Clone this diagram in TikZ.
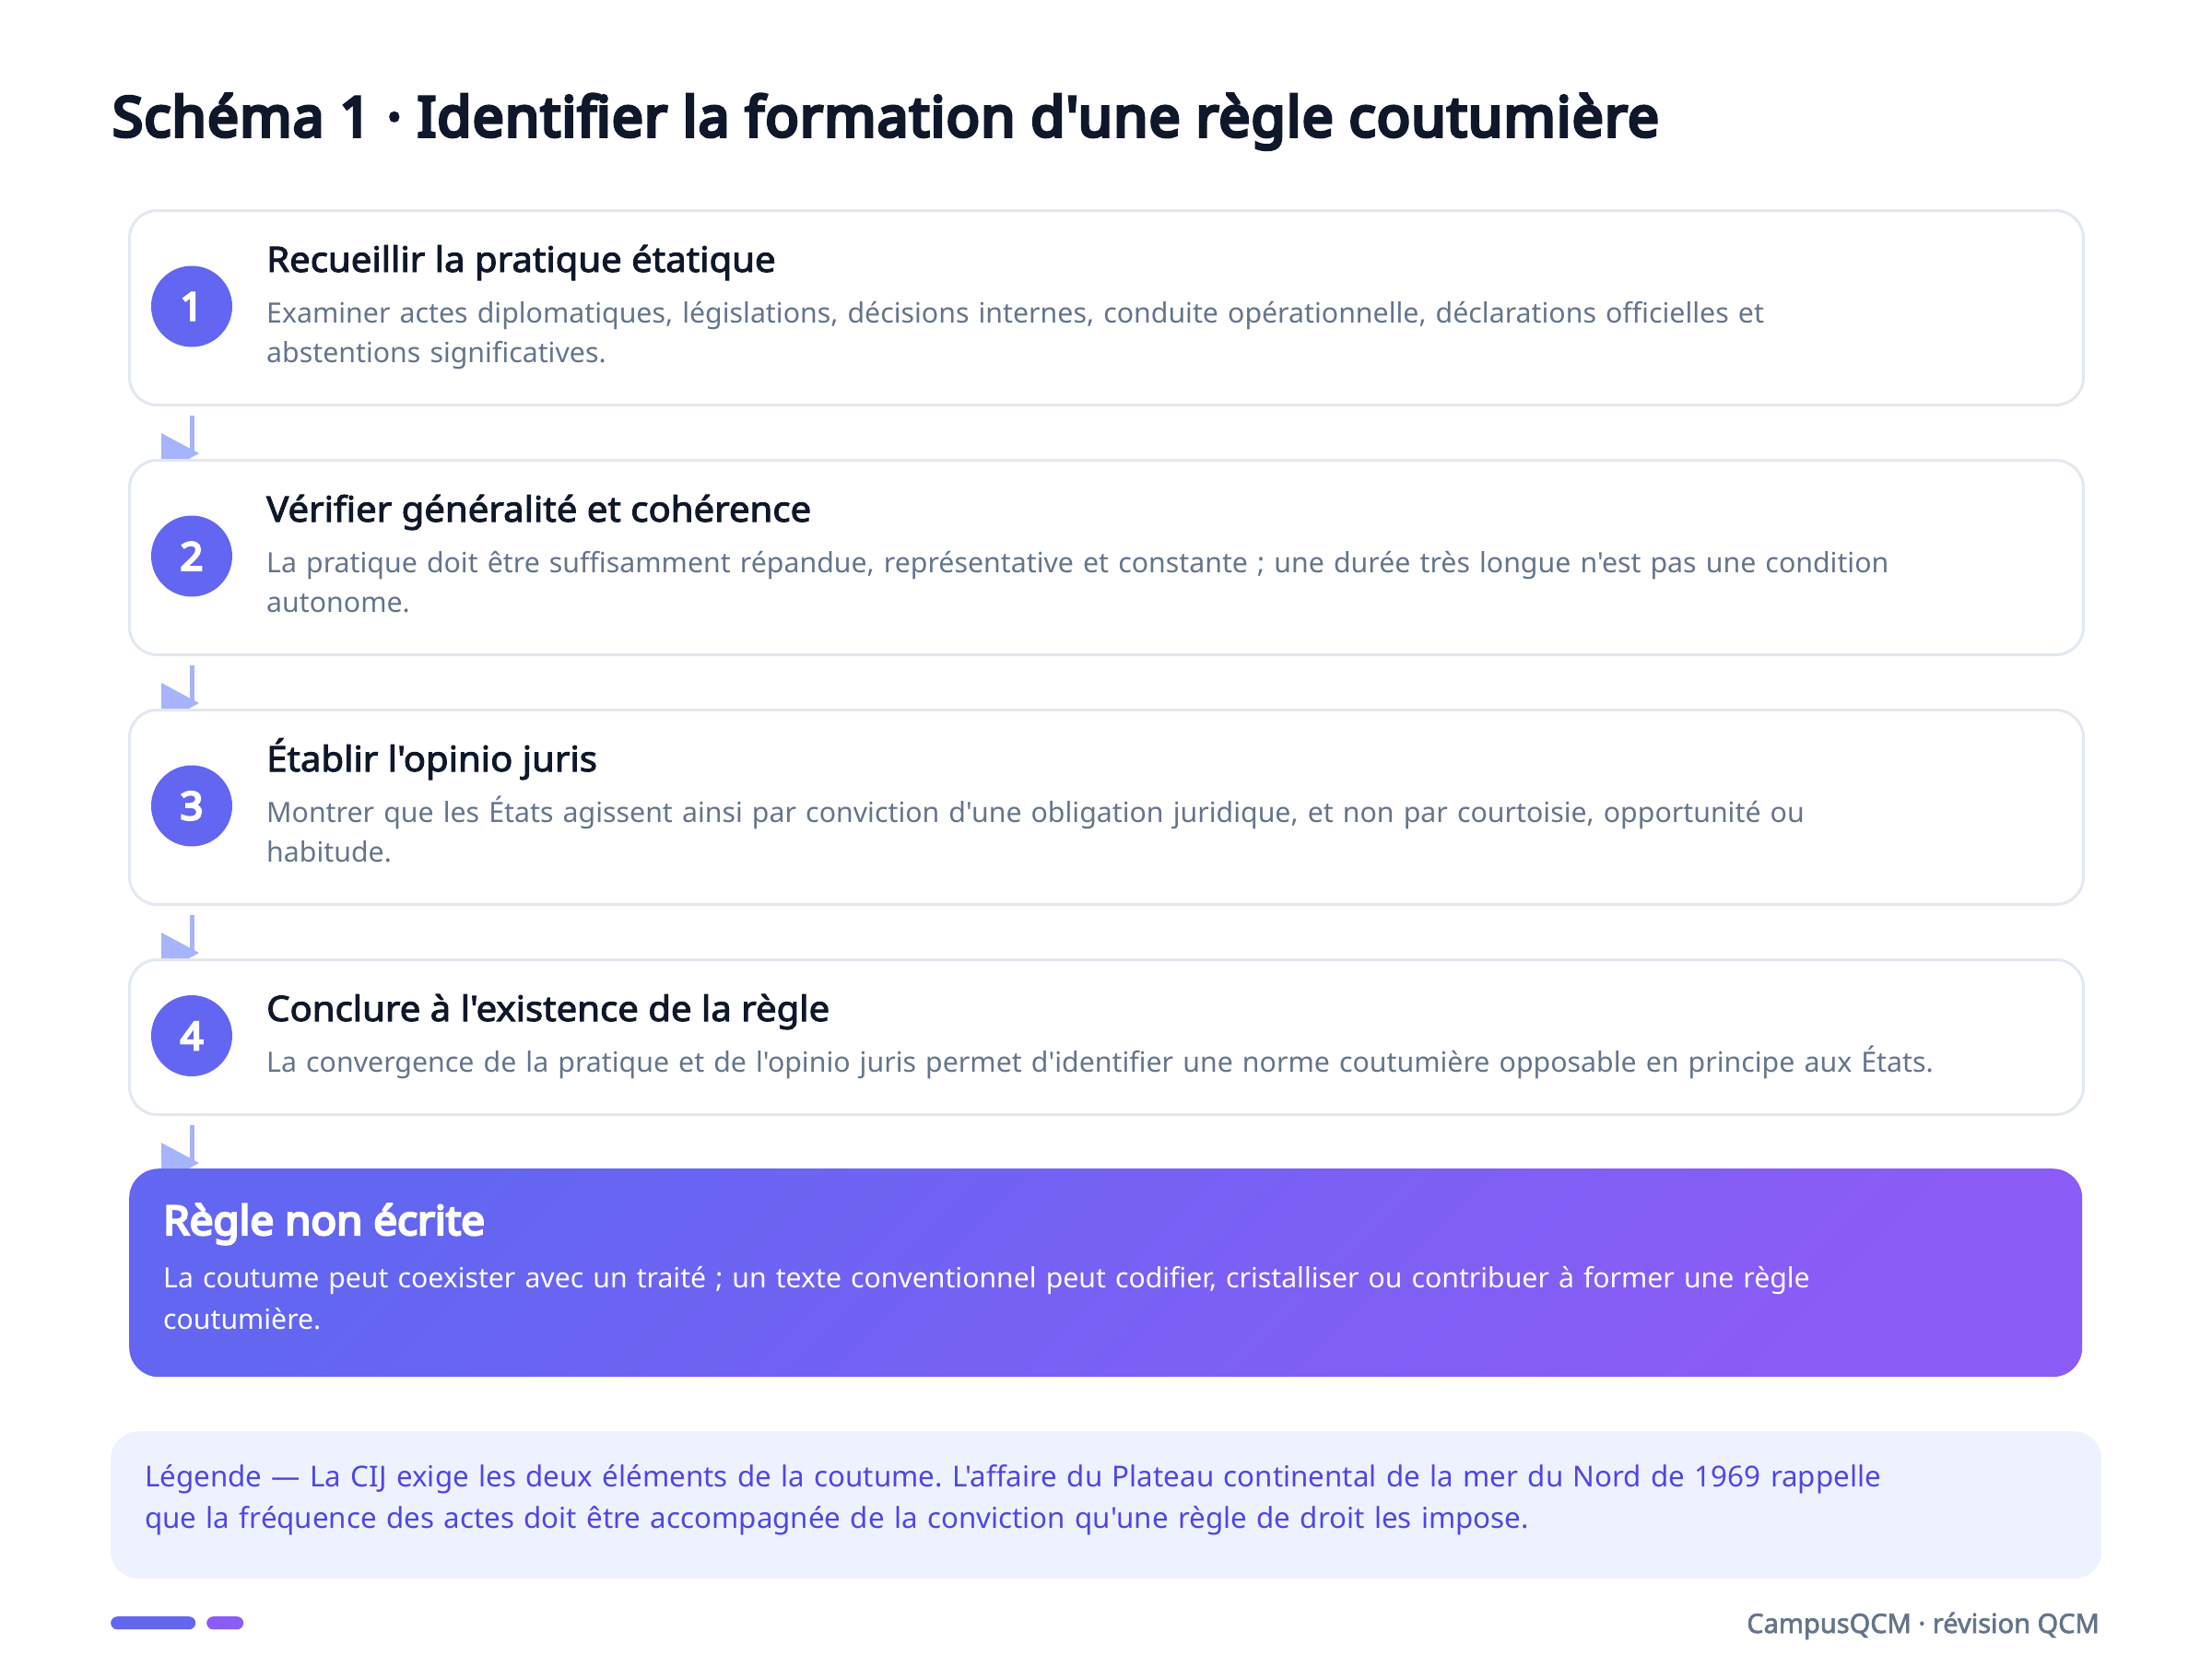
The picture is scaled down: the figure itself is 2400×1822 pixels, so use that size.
\documentclass[tikz,border=0pt]{standalone}
\usepackage{fontspec}
\setmainfont{Noto Sans}
\newfontfamily\basef{Noto Sans}
\newfontfamily\titlef{Noto Sans}[FakeBold=6, LetterSpace=2.3]
\newfontfamily\semif{Noto Sans}[FakeBold=2.6, FakeStretch=1.055]
\newfontfamily\heavyf{Noto Sans}[FakeBold=5.5, FakeStretch=1.04]
\newfontfamily\footf{Noto Sans}[FakeBold=2.2]
\usetikzlibrary{calc}
\pgfdeclarelayer{bg}
\pgfsetlayers{bg,main}
\definecolor{ink}{HTML}{0F172A}
\definecolor{muted}{HTML}{64748B}
\definecolor{boxline}{HTML}{E2E8F0}
\definecolor{dot}{HTML}{6366F1}
\definecolor{arrowc}{HTML}{A5B4FC}
\definecolor{gradA}{HTML}{6366F1}
\definecolor{gradB}{HTML}{8B5CF6}
\definecolor{legbg}{HTML}{EEF2FF}
\definecolor{legtext}{HTML}{4F46E5}
\tikzset{
  stepbox/.style={draw=boxline, line width=3pt, fill=white, rounded corners=30pt, inner sep=0pt, anchor=north west, minimum width=2120pt},
  numdot/.style={circle, fill=dot, minimum size=88pt, inner sep=0pt, text=white, font=\heavyf\fontsize{42}{42}\selectfont},
  steptitle/.style={anchor=base west, inner sep=0pt, text=ink, font=\semif\fontsize{38}{44}\selectfont},
  stepbody/.style={anchor=base west, inner sep=0pt, text=muted, text width=1940pt, align=left, font=\basef\fontsize{30.3}{43}\selectfont},
  conn/.style={draw=arrowc, line width=5pt},
  connhead/.style={fill=arrowc},
}
\begin{document}
\frenchspacing
\begin{tikzpicture}[x=1pt,y=-1pt]
\begin{pgfonlayer}{bg}
\fill[white] (0,0) rectangle (2400,1822);
\end{pgfonlayer}
\useasboundingbox (0,0) rectangle (2400,1822);

% title
\node[anchor=base west, inner sep=0pt, text=ink, font=\titlef\fontsize{60}{70}\selectfont] (title) at (122,148) {Schéma 1 · Identifier la formation d'une règle coutumière};

% step 1
\node[stepbox, minimum height=211pt] (s1) at (139,227) {};
\node[numdot] (n1) at (208,332.5) {1};
\node[steptitle] (t1) at (289,295) {Recueillir la pratique étatique};
\node[stepbody] (b1) at (289,350) {Examiner actes diplomatiques, législations, décisions internes, conduite opérationnelle, déclarations officielles et\\abstentions significatives.};

% step 2
\node[stepbox, minimum height=211pt] (s2) at (139,498) {};
\node[numdot] (n2) at (208,603.5) {2};
\node[steptitle] (t2) at (289,566) {Vérifier généralité et cohérence};
\node[stepbody] (b2) at (289,621) {La pratique doit être suffisamment répandue, représentative et constante ; une durée très longue n'est pas une condition\\autonome.};

% step 3
\node[stepbox, minimum height=211pt] (s3) at (139,769) {};
\node[numdot] (n3) at (208,874.5) {3};
\node[steptitle] (t3) at (289,837) {Établir l'opinio juris};
\node[stepbody] (b3) at (289,892) {Montrer que les États agissent ainsi par conviction d'une obligation juridique, et non par courtoisie, opportunité ou\\habitude.};

% step 4
\node[stepbox, minimum height=168pt] (s4) at (139,1040) {};
\node[numdot] (n4) at (208,1124) {4};
\node[steptitle] (t4) at (289,1108) {Conclure à l'existence de la règle};
\node[stepbody] (b4) at (289,1163) {La convergence de la pratique et de l'opinio juris permet d'identifier une norme coutumière opposable en principe aux États.};

% result
\node[rounded corners=32pt, top color=gradA, bottom color=gradB, shading angle=45, minimum width=2119pt, minimum height=226pt, anchor=north west, inner sep=0pt] (r) at (140,1268) {};
\node[anchor=base west, inner sep=0pt, text=white, font=\heavyf\fontsize{44}{50}\selectfont] (rt) at (177,1340) {Règle non écrite};
\node[anchor=base west, inner sep=0pt, text=white, text width=2000pt, align=left, font=\basef\fontsize{30.2}{45}\selectfont] (rb) at (177,1397) {La coutume peut coexister avec un traité ; un texte conventionnel peut codifier, cristalliser ou contribuer à former une règle\\coutumière.};

% connectors
\begin{pgfonlayer}{bg}
\foreach \a/\b/\p in {s1/s2/n1, s2/s3/n2, s3/s4/n3, s4/r/n4} {
  \draw[conn] ($(\p |- \a.south)+(0,10)$) -- ($(\p |- \b.north)+(0,-6)$);
  \fill[connhead] ($(\p |- \b.north)+(-33,-28)$) -- ++(41,22) -- ++(-41,22) -- cycle;
}
\end{pgfonlayer}

% legend
\node[fill=legbg, rounded corners=30pt, minimum width=2160pt, minimum height=160pt, anchor=north west, inner sep=0pt] (leg) at (120,1553) {};
\node[anchor=base west, inner sep=0pt, text=legtext, text width=2100pt, align=left, font=\basef\fontsize{31.3}{45}\selectfont] (legt) at (157,1613) {Légende — La CIJ exige les deux éléments de la coutume. L'affaire du Plateau continental de la mer du Nord de 1969 rappelle\\que la fréquence des actes doit être accompagnée de la conviction qu'une règle de droit les impose.};

% footer
\node[fill=gradA, rounded corners=7pt, minimum width=92pt, minimum height=14pt, inner sep=0pt, anchor=north west] (bar1) at (120,1754) {};
\node[fill=gradB, rounded corners=7pt, minimum width=40pt, minimum height=14pt, inner sep=0pt, anchor=north west] (bar2) at (224,1754) {};
\node[anchor=base east, inner sep=0pt, text=muted, font=\footf\fontsize{29}{34}\selectfont] (foot) at (2278,1772) {CampusQCM · révision QCM};
\end{tikzpicture}
\end{document}
